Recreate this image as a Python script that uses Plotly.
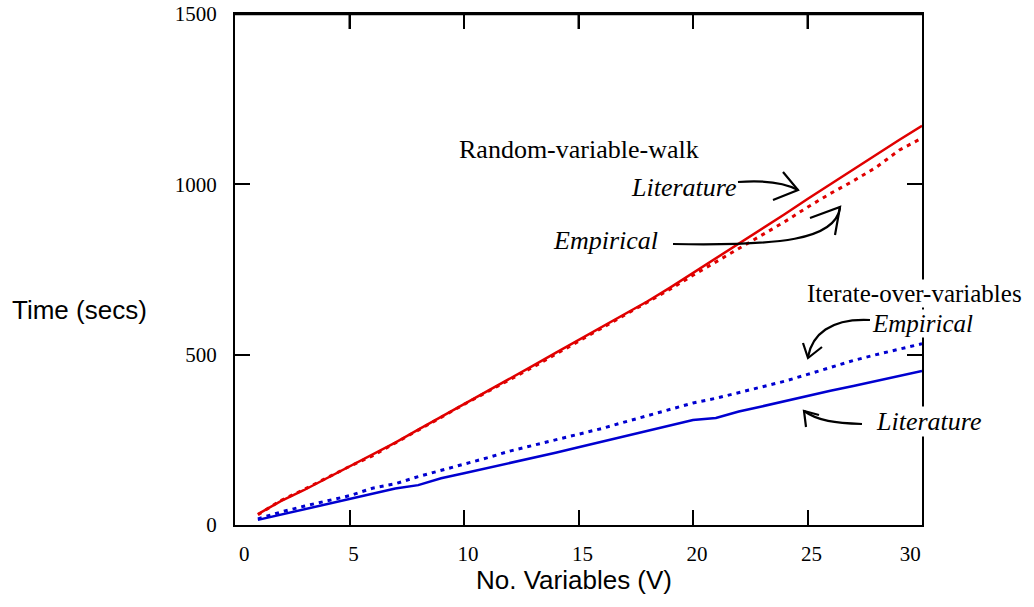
import plotly.graph_objects as go

# ---- data ----
n_vars = list(range(1, 31))
rvw_literature = [32, 70, 102, 137, 170, 205, 242, 280, 317, 355, 392, 430, 467, 505, 543,
                  580, 617, 656, 697, 740, 782, 825, 868, 912, 957, 1001, 1044, 1087, 1130, 1172]
rvw_empirical = [30, 72, 104, 138, 172, 203, 240, 279, 316, 354, 390, 426, 463, 501, 539,
                 576, 614, 652, 692, 733, 772, 812, 850, 890, 933, 973, 1010, 1050, 1100, 1136]
iov_literature = [15, 30, 45, 60, 75, 92, 107, 117, 137, 152, 167, 182, 195, 212, 228,
                  244, 260, 277, 293, 308, 314, 333, 348, 364, 380, 394, 408, 423, 438, 452]
iov_empirical = [18, 38, 55, 70, 86, 108, 121, 142, 160, 178, 197, 217, 233, 249, 266,
                 283, 302, 320, 338, 358, 372, 388, 404, 422, 442, 463, 483, 500, 515, 532]
x_ticks = [0, 5, 10, 15, 20, 25, 30]
x_tick_text = ["\u00a0\u00a00", "5", "10", "15", "20", "25", "30\u00a0\u00a0\u00a0\u00a0\u00a0\u00a0"]
y_ticks = [0, 500, 1000, 1500]

RED = "#e00000"
BLUE = "#0000d0"
W, H = 1034, 607
L, R, T, B = 235, 922, 14, 525
XR, YR = (0, 30), (0, 1500)
TICKLEN = 15


def P(px, py):
    """pixel -> data coordinates (for decorations only)"""
    return (XR[0] + (px - L) / (R - L) * (XR[1] - XR[0]),
            YR[0] + (B - py) / (B - T) * (YR[1] - YR[0]))


def PP(px, py):
    """pixel -> paper coordinates (for decorations only)"""
    return (px - L) / (R - L), (B - py) / (B - T)


fig = go.Figure()
fig.add_trace(go.Scatter(x=n_vars, y=rvw_literature, mode="lines",
                         line=dict(color=RED, width=2.5), name="RVW literature"))
fig.add_trace(go.Scatter(x=n_vars, y=rvw_empirical, mode="lines",
                         line=dict(color=RED, width=3, dash="4px,5px"), name="RVW empirical"))
fig.add_trace(go.Scatter(x=n_vars, y=iov_literature, mode="lines",
                         line=dict(color=BLUE, width=2.5), name="IOV literature"))
fig.add_trace(go.Scatter(x=n_vars, y=iov_empirical, mode="lines",
                         line=dict(color=BLUE, width=3, dash="4px,5px"), name="IOV empirical"))

serif = "Liberation Serif, Times New Roman, serif"
sans = "Liberation Sans, Arial, sans-serif"

ann = []


def label(text, px, py, italic=False, bg=None, font=serif, size=26):
    x, y = PP(px, py)
    ann.append(dict(x=x, y=y, xref="paper", yref="paper",
                    text=("<i>%s</i>" % text) if italic else text,
                    showarrow=False, xanchor="center", yanchor="middle",
                    font=dict(family=font, size=size, color="black"),
                    bgcolor=bg if bg else "rgba(0,0,0,0)", borderpad=0))


label("Random-variable-walk", 579, 149)
label("Literature", 683, 187, italic=True)
label("Empirical", 605, 240, italic=True)
label("Iterate-over-variables", 914, 293, bg="white", size=25)
label("Empirical", 922, 323, italic=True, bg="white", size=25)
label("Literature", 928, 421, italic=True, bg="white")

# axis titles
label("Time (secs)", 79, 310, font=sans)
label("No. Variables (V)", 574, 580, font=sans)

shapes = []

# top frame edge and its inward ticks (frame decoration)
shapes.append(dict(type="line", xref="paper", yref="paper", x0=0, x1=1, y0=1, y1=1,
                   line=dict(color="black", width=2.5), layer="above"))
for xv in x_ticks[1:-1]:
    shapes.append(dict(type="line", xref="x", yref="paper", x0=xv, x1=xv,
                       y0=1, y1=1 - TICKLEN / (B - T),
                       line=dict(color="black", width=2), layer="above"))


def curve(pts):
    (a, b), (c, d), (e, f), (g, h) = [P(*p) for p in pts]
    shapes.append(dict(type="path", xref="x", yref="y",
                       path=f"M {a},{b} C {c},{d} {e},{f} {g},{h}",
                       line=dict(color="black", width=2.2), layer="above"))


def head(tip, a1, a2):
    (a, b), (c, d), (e, f) = P(*a1), P(*tip), P(*a2)
    shapes.append(dict(type="path", xref="x", yref="y",
                       path=f"M {a},{b} L {c},{d} L {e},{f}",
                       line=dict(color="black", width=2.2), layer="above"))


# red literature arrow
curve([(738, 182), (765, 180), (785, 183), (798, 190)])
head((798, 190), (783, 172), (773, 200))
# red empirical arrow
curve([(673, 244), (780, 246), (835, 240), (840, 208)])
head((840, 207), (810, 218), (835, 235))
# blue empirical arrow
curve([(870, 320), (830, 318), (812, 335), (808, 357)])
head((808, 358), (803, 343), (822, 347))
# blue literature arrow
curve([(862, 424), (835, 423), (818, 421), (804, 411)])
head((804, 411), (806, 427), (819, 415))

axis_common = dict(showline=True, linewidth=2, linecolor="black",
                   ticks="inside", ticklen=TICKLEN, tickwidth=2, tickcolor="black",
                   showgrid=False, zeroline=False, automargin=False,
                   tickfont=dict(family=serif, size=21, color="black"))

fig.update_layout(
    width=W, height=H,
    margin=dict(l=L, r=W - R, t=T, b=H - B, pad=0),
    paper_bgcolor="white", plot_bgcolor="white",
    showlegend=False,
    xaxis=dict(range=list(XR), tickvals=x_ticks, ticktext=x_tick_text, mirror="ticks",
               ticklabelstandoff=9, ticklabelshift=4, **axis_common),
    yaxis=dict(range=list(YR), tickvals=y_ticks, ticklabelstandoff=12, mirror="ticks",
               **axis_common),
    annotations=ann,
    shapes=shapes,
)

fig.write_html("out.html")
